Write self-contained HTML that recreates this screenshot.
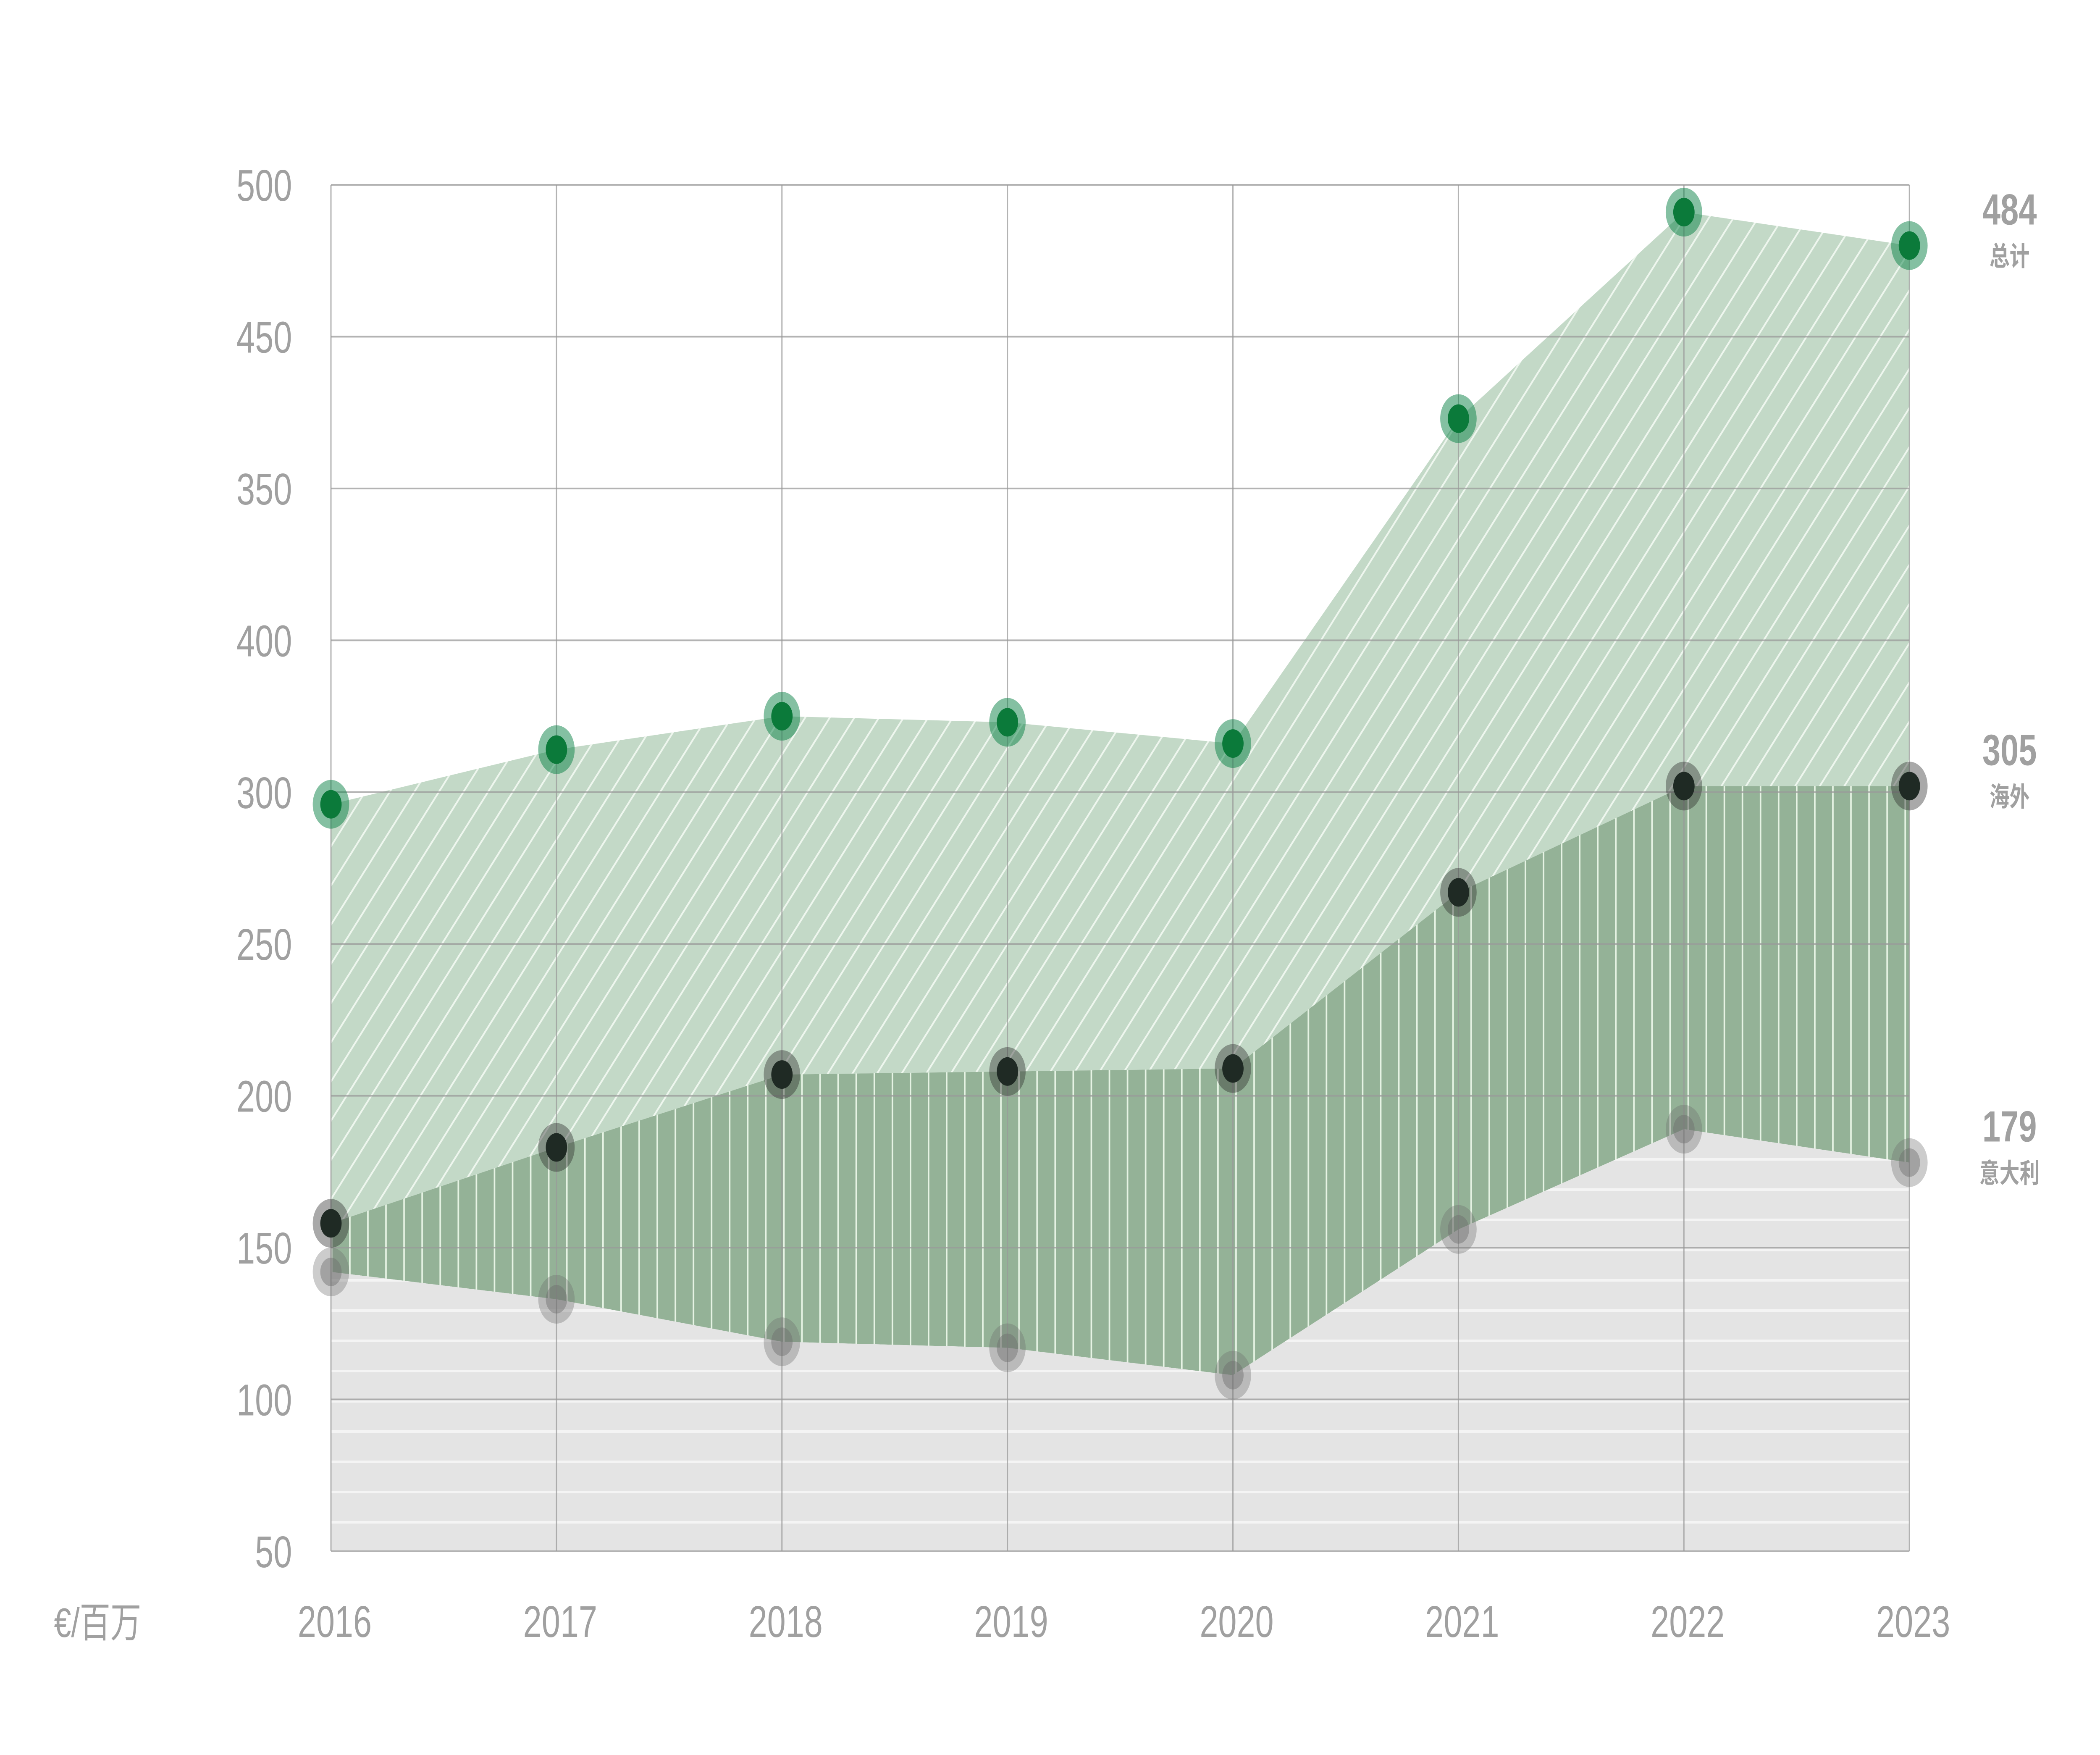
<!DOCTYPE html>
<html><head><meta charset="utf-8"><style>
html,body{margin:0;padding:0;background:#fff;width:100%;height:100%;overflow:hidden;}
svg{display:block;position:absolute;left:0;top:0;width:100vw;height:100vh;}
text{font-family:"Liberation Sans","Noto Sans CJK SC",sans-serif;fill:#a0a0a0;}
</style></head><body>
<svg id="chart" viewBox="0 0 6688 4178" preserveAspectRatio="none" xmlns="http://www.w3.org/2000/svg">
<defs>
<pattern id="diag" patternUnits="userSpaceOnUse" width="60" height="60" patternTransform="rotate(40)">
<rect width="60" height="60" fill="#c3d9c7"/><rect x="0" y="0" width="5" height="60" fill="#eef6ee"/>
</pattern>
<pattern id="vert" patternUnits="userSpaceOnUse" width="57.6" height="60" x="1054">
<rect width="57.6" height="60" fill="#94b297"/><rect x="0" y="0" width="5" height="60" fill="#e6f3e4"/>
</pattern>
<pattern id="horz" patternUnits="userSpaceOnUse" width="60" height="72" y="3693">
<rect width="60" height="72" fill="#e4e4e4"/><rect x="0" y="0" width="60" height="6" fill="#f4f4f4"/>
</pattern>
</defs>
<g id="areas"></g>
<g id="grid"></g>
<g id="marks"></g>
<g id="labels"></g>
</svg>
<script>
const years = ["2016","2017","2018","2019","2020","2021","2022","2023"];
const totalValues = [296,314,325,323,316,423,491,480];
const overseasValues = [158,183,207,208,209,267,302,302];
const italyValues = [142,133,119,117,108,156,189,178];
const yTickLabels = ["500","450","350","400","300","250","200","150","100","50"];
const endLabelValues = ["484","305","179"];
const endLabelNames = ["总计","海外","意大利"];

const L=1054,R=6081,T=440,B=3693,vmin=50,vmax=500;
const NS="http://www.w3.org/2000/svg";
const xs=i=>L+(R-L)*i/(years.length-1);
const ys=v=>B-(v-vmin)/(vmax-vmin)*(B-T);
function mk(tag,attrs,parent){const e=document.createElementNS(NS,tag);for(const k in attrs)e.setAttribute(k,attrs[k]);parent.appendChild(e);return e;}
const areas=document.getElementById('areas'),grid=document.getElementById('grid'),marks=document.getElementById('marks'),labels=document.getElementById('labels');

function band(top,bot){const a=top.map((v,i)=>xs(i)+','+ys(v));const b=bot?bot.map((v,i)=>xs(i)+','+ys(v)).reverse():[R+','+B,L+','+B];return a.concat(b).join(' ');}

let p=mk('polygon',{points:band(totalValues,overseasValues),fill:'url(#diag)'},areas);


p=mk('polygon',{points:band(overseasValues,italyValues),fill:'url(#vert)'},areas);


p=mk('polygon',{points:band(italyValues,null),fill:'url(#horz)'},areas);



yTickLabels.forEach((lab,i)=>{
  const y=T+(B-T)*i/(yTickLabels.length-1);
  const g=mk('line',{x1:L,x2:R,y1:y,y2:y,stroke:'#9a9a9a','stroke-opacity':0.75,'stroke-width':4},grid);
  
  
  const t=mk('text',{x:930,y:y+38,'text-anchor':'end','font-size':106},labels);
  t.textContent=lab;
  
  
});
years.forEach((yr,i)=>{
  const g=mk('line',{x1:xs(i),x2:xs(i),y1:T,y2:B,stroke:'#9a9a9a','stroke-opacity':0.75,'stroke-width':4},grid);
  
  
  const t=mk('text',{x:xs(i)+12,y:3897,'text-anchor':'middle','font-size':106},labels);
  t.textContent=yr;
  
  
});
let u=mk('text',{x:172,y:3897,'font-size':98},labels);
u.textContent='€/百万';



function dots(vals,outer,inner,name){
  vals.forEach((v,i)=>{
    const c1=mk('circle',{cx:xs(i),cy:ys(v),r:58,fill:outer},marks);
    
    
    const c2=mk('circle',{cx:xs(i),cy:ys(v),r:34,fill:inner},marks);
    
    
  });
}
dots(italyValues,'rgba(110,110,110,0.35)','rgba(110,110,110,0.45)','italy');
dots(overseasValues,'rgba(40,40,40,0.4)','#1f2a24','overseas');
dots(totalValues,'rgba(10,130,70,0.5)','#0b7a3a','total');

const lastVals=[totalValues,overseasValues,italyValues].map(a=>a[a.length-1]);
endLabelValues.forEach((val,i)=>{
  const y=ys(lastVals[i]);
  const t=mk('text',{x:6400,y:y-50,'text-anchor':'middle','font-size':104,'font-weight':'bold'},labels);
  t.textContent=val;
  
  
  const n=mk('text',{x:6400,y:y+48,'text-anchor':'middle','font-size':64,'font-weight':'bold'},labels);
  n.textContent=endLabelNames[i];
  
  
});
</script>
</body></html>
